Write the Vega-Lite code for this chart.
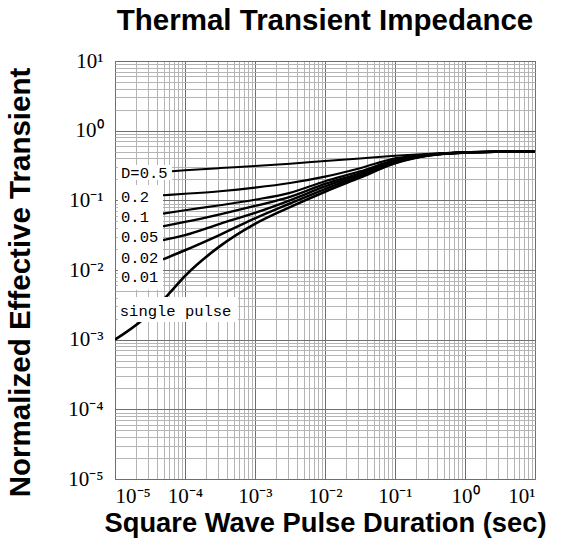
{
  "$schema": "https://vega.github.io/schema/vega-lite/v6.json",
  "width": 420,
  "height": 418,
  "autosize": {"type": "none"},
  "padding": {"left": 115, "top": 61, "right": 34, "bottom": 69},
  "background": "white",
  "title": {
    "text": "Thermal Transient Impedance",
    "font": "Liberation Sans",
    "fontWeight": "bold",
    "fontSize": 29.5,
    "color": "black",
    "anchor": "middle",
    "frame": "group",
    "offset": 14
  },
  "config": {
    "view": {"stroke": "#777", "strokeWidth": 1},
    "axis": {
      "labelFont": "Liberation Serif",
      "labelFontSize": 21,
      "labelColor": "black",
      "titleFont": "Liberation Sans",
      "titleFontWeight": "bold",
      "titleColor": "black",
      "ticks": false,
      "domain": false,
      "labelOverlap": false,
      "labelBound": false,
      "gridOpacity": 1,
      "gridWidth": 1
    }
  },
  "datasets": {
    "curves": [
      {"series": "single pulse", "t": 0.00001, "z": 0.001},
      {"series": "single pulse", "t": 0.0000251, "z": 0.00195},
      {"series": "single pulse", "t": 0.0000571, "z": 0.0044},
      {"series": "single pulse", "t": 0.0001, "z": 0.0082},
      {"series": "single pulse", "t": 0.000316, "z": 0.022},
      {"series": "single pulse", "t": 0.001, "z": 0.046},
      {"series": "single pulse", "t": 0.00316, "z": 0.08},
      {"series": "single pulse", "t": 0.01, "z": 0.133},
      {"series": "single pulse", "t": 0.0316, "z": 0.212},
      {"series": "single pulse", "t": 0.1, "z": 0.34},
      {"series": "single pulse", "t": 0.316, "z": 0.443},
      {"series": "single pulse", "t": 1, "z": 0.485},
      {"series": "single pulse", "t": 3.16, "z": 0.5},
      {"series": "single pulse", "t": 10, "z": 0.505},

      {"series": "0.01", "t": 0.0000485, "z": 0.0142},
      {"series": "0.01", "t": 0.0001, "z": 0.0192},
      {"series": "0.01", "t": 0.000316, "z": 0.032},
      {"series": "0.01", "t": 0.001, "z": 0.055},
      {"series": "0.01", "t": 0.00316, "z": 0.09},
      {"series": "0.01", "t": 0.01, "z": 0.145},
      {"series": "0.01", "t": 0.0316, "z": 0.225},
      {"series": "0.01", "t": 0.1, "z": 0.35},
      {"series": "0.01", "t": 0.316, "z": 0.445},
      {"series": "0.01", "t": 1, "z": 0.485},
      {"series": "0.01", "t": 3.16, "z": 0.5},
      {"series": "0.01", "t": 10, "z": 0.505},

      {"series": "0.02", "t": 0.0000485, "z": 0.0268},
      {"series": "0.02", "t": 0.0001, "z": 0.0316},
      {"series": "0.02", "t": 0.000316, "z": 0.046},
      {"series": "0.02", "t": 0.001, "z": 0.066},
      {"series": "0.02", "t": 0.00316, "z": 0.1},
      {"series": "0.02", "t": 0.01, "z": 0.158},
      {"series": "0.02", "t": 0.0316, "z": 0.235},
      {"series": "0.02", "t": 0.1, "z": 0.356},
      {"series": "0.02", "t": 0.316, "z": 0.447},
      {"series": "0.02", "t": 1, "z": 0.486},
      {"series": "0.02", "t": 3.16, "z": 0.5},
      {"series": "0.02", "t": 10, "z": 0.505},

      {"series": "0.05", "t": 0.0000485, "z": 0.0425},
      {"series": "0.05", "t": 0.0001, "z": 0.049},
      {"series": "0.05", "t": 0.000316, "z": 0.063},
      {"series": "0.05", "t": 0.001, "z": 0.083},
      {"series": "0.05", "t": 0.00316, "z": 0.112},
      {"series": "0.05", "t": 0.01, "z": 0.172},
      {"series": "0.05", "t": 0.0316, "z": 0.245},
      {"series": "0.05", "t": 0.1, "z": 0.365},
      {"series": "0.05", "t": 0.316, "z": 0.45},
      {"series": "0.05", "t": 1, "z": 0.487},
      {"series": "0.05", "t": 3.16, "z": 0.5},
      {"series": "0.05", "t": 10, "z": 0.505},

      {"series": "0.1", "t": 0.0000485, "z": 0.0645},
      {"series": "0.1", "t": 0.0001, "z": 0.072},
      {"series": "0.1", "t": 0.000316, "z": 0.085},
      {"series": "0.1", "t": 0.001, "z": 0.102},
      {"series": "0.1", "t": 0.00316, "z": 0.128},
      {"series": "0.1", "t": 0.01, "z": 0.188},
      {"series": "0.1", "t": 0.0316, "z": 0.26},
      {"series": "0.1", "t": 0.1, "z": 0.378},
      {"series": "0.1", "t": 0.316, "z": 0.455},
      {"series": "0.1", "t": 1, "z": 0.488},
      {"series": "0.1", "t": 3.16, "z": 0.5},
      {"series": "0.1", "t": 10, "z": 0.505},

      {"series": "0.2", "t": 0.0000485, "z": 0.118},
      {"series": "0.2", "t": 0.0001, "z": 0.124},
      {"series": "0.2", "t": 0.000316, "z": 0.135},
      {"series": "0.2", "t": 0.001, "z": 0.152},
      {"series": "0.2", "t": 0.00316, "z": 0.177},
      {"series": "0.2", "t": 0.01, "z": 0.219},
      {"series": "0.2", "t": 0.0316, "z": 0.289},
      {"series": "0.2", "t": 0.1, "z": 0.4},
      {"series": "0.2", "t": 0.316, "z": 0.46},
      {"series": "0.2", "t": 1, "z": 0.49},
      {"series": "0.2", "t": 3.16, "z": 0.5},
      {"series": "0.2", "t": 10, "z": 0.505},

      {"series": "0.5", "t": 0.0000652, "z": 0.262},
      {"series": "0.5", "t": 0.0001, "z": 0.27},
      {"series": "0.5", "t": 0.000316, "z": 0.29},
      {"series": "0.5", "t": 0.001, "z": 0.31},
      {"series": "0.5", "t": 0.00316, "z": 0.336},
      {"series": "0.5", "t": 0.01, "z": 0.368},
      {"series": "0.5", "t": 0.0316, "z": 0.4},
      {"series": "0.5", "t": 0.1, "z": 0.435},
      {"series": "0.5", "t": 0.316, "z": 0.465},
      {"series": "0.5", "t": 1, "z": 0.49},
      {"series": "0.5", "t": 3.16, "z": 0.5},
      {"series": "0.5", "t": 10, "z": 0.505}
    ],
    "boxes": [
      {"t": 0.0000110, "t2": 0.0000652, "z": 0.322, "z2": 0.196},
      {"t": 0.0000110, "t2": 0.0000485, "z": 0.166, "z2": 0.00519},
      {"t": 0.0000110, "t2": 0.000571, "z": 0.00411, "z2": 0.0018}
    ],
    "labels": [
      {"label": "D=0.5", "t": 0.0000122, "z": 0.243},
      {"label": "0.2", "t": 0.0000122, "z": 0.11},
      {"label": "0.1", "t": 0.0000122, "z": 0.0571},
      {"label": "0.05", "t": 0.0000122, "z": 0.0296},
      {"label": "0.02", "t": 0.0000122, "z": 0.0148},
      {"label": "0.01", "t": 0.0000122, "z": 0.00794},
      {"label": "single pulse", "t": 0.0000117, "z": 0.0026}
    ]
  },
  "layer": [
    {
      "data": {"name": "curves"},
      "mark": {"type": "line", "interpolate": "monotone", "color": "black", "clip": true},
      "encoding": {
        "x": {
          "field": "t",
          "type": "quantitative",
          "scale": {"type": "log", "domain": [0.00001, 10], "nice": false},
          "axis": {
            "title": "Square Wave Pulse Duration (sec)",
            "titleFontSize": 27.3,
            "titlePadding": 3,
            "labelPadding": 6,
            "values": [0.00001,0.00002,0.00003,0.00004,0.00005,0.00006,0.00007,0.00008,0.00009,0.0001,0.0002,0.0003,0.0004,0.0005,0.0006,0.0007,0.0008,0.0009,0.001,0.002,0.003,0.004,0.005,0.006,0.007,0.008,0.009,0.01,0.02,0.03,0.04,0.05,0.06,0.07,0.08,0.09,0.1,0.2,0.3,0.4,0.5,0.6,0.7,0.8,0.9,1,2,3,4,5,6,7,8,9,10],
            "labelExpr": "abs(log(datum.value)/LN10 - round(log(datum.value)/LN10)) < 0.001 ? ['10⁻⁵','10⁻⁴','10⁻³','10⁻²','10⁻¹','10⁰','10¹'][round(log(datum.value)/LN10)+5] : ''",
            "gridColor": {"condition": {"test": "abs(log(datum.value)/LN10 - round(log(datum.value)/LN10)) < 0.001", "value": "#6e6e6e"}, "value": "#b4b4b4"}
          }
        },
        "y": {
          "field": "z",
          "type": "quantitative",
          "scale": {"type": "log", "domain": [0.00001, 10], "nice": false},
          "axis": {
            "title": "Normalized Effective Transient",
            "titleFontSize": 29.5,
            "titlePadding": 32,
            "titleY": 221,
            "labelPadding": 12,
            "values": [0.00001,0.00002,0.00003,0.00004,0.00005,0.00006,0.00007,0.00008,0.00009,0.0001,0.0002,0.0003,0.0004,0.0005,0.0006,0.0007,0.0008,0.0009,0.001,0.002,0.003,0.004,0.005,0.006,0.007,0.008,0.009,0.01,0.02,0.03,0.04,0.05,0.06,0.07,0.08,0.09,0.1,0.2,0.3,0.4,0.5,0.6,0.7,0.8,0.9,1,2,3,4,5,6,7,8,9,10],
            "labelExpr": "abs(log(datum.value)/LN10 - round(log(datum.value)/LN10)) < 0.001 ? ['10⁻⁵','10⁻⁴','10⁻³','10⁻²','10⁻¹','10⁰','10¹'][round(log(datum.value)/LN10)+5] : ''",
            "gridColor": {"condition": {"test": "abs(log(datum.value)/LN10 - round(log(datum.value)/LN10)) < 0.001", "value": "#6e6e6e"}, "value": "#b4b4b4"}
          }
        },
        "detail": {"field": "series", "type": "nominal"},
        "strokeWidth": {
          "field": "series",
          "type": "nominal",
          "scale": {"domain": ["single pulse", "0.01", "0.02", "0.05", "0.1", "0.2", "0.5"], "range": [2.6, 2, 2, 2, 2, 2, 2.2]},
          "legend": null
        }
      }
    },
    {
      "data": {"name": "boxes"},
      "mark": {"type": "rect", "fill": "white", "stroke": null},
      "encoding": {
        "x": {"field": "t", "type": "quantitative"},
        "x2": {"field": "t2"},
        "y": {"field": "z", "type": "quantitative"},
        "y2": {"field": "z2"}
      }
    },
    {
      "data": {"name": "labels"},
      "mark": {"type": "text", "align": "left", "baseline": "middle", "font": "Liberation Mono", "fontSize": 15.5, "color": "black"},
      "encoding": {
        "x": {"field": "t", "type": "quantitative"},
        "y": {"field": "z", "type": "quantitative"},
        "text": {"field": "label"}
      }
    }
  ]
}
